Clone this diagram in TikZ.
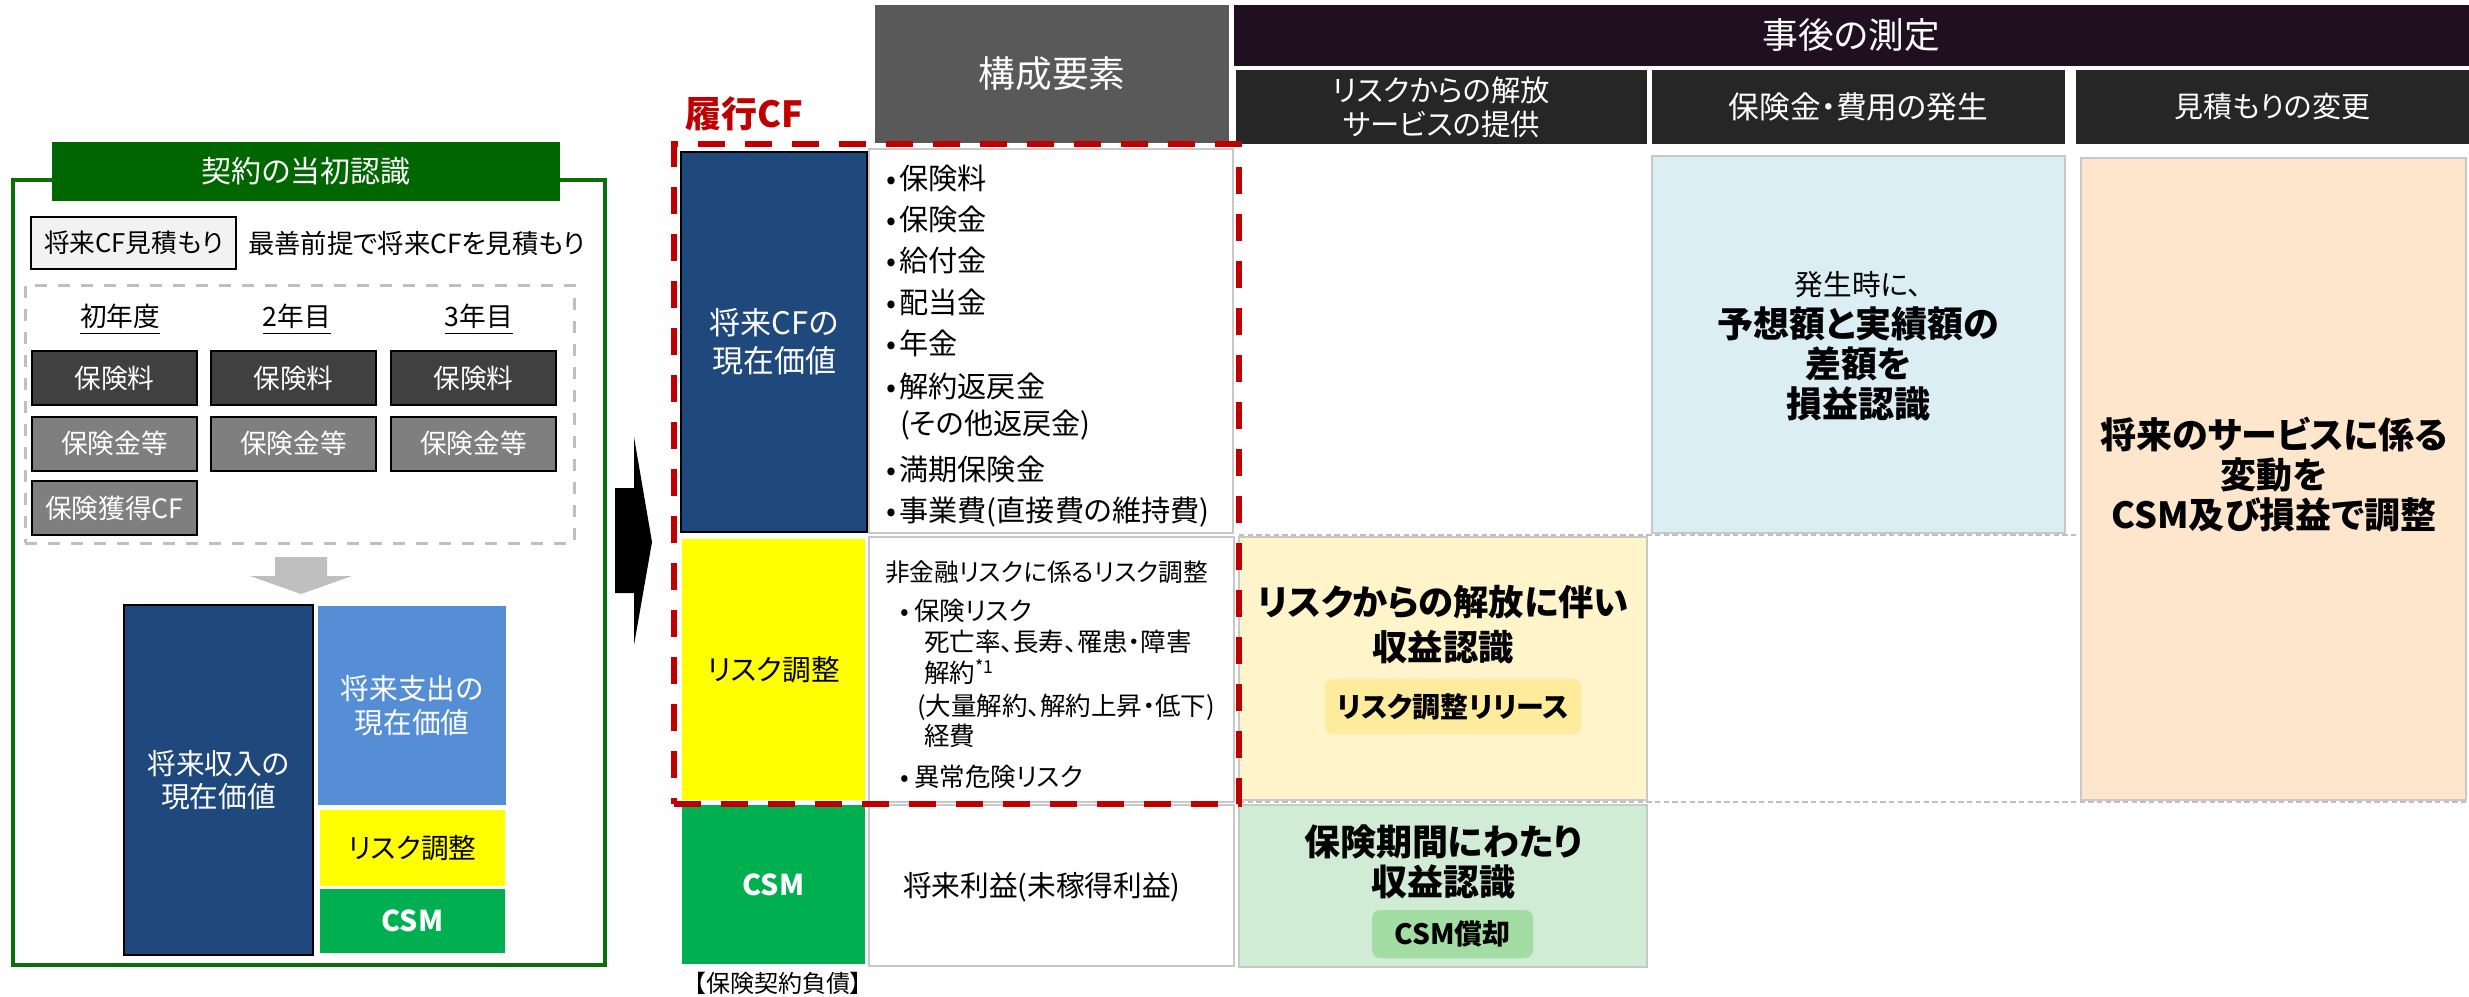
\documentclass[tikz,border=0pt]{standalone}
\usepackage{fontspec}
\setmainfont{Noto Sans CJK JP}[RawFeature={+palt}]
\definecolor{dkgreen}{HTML}{006600}
\definecolor{frameg}{HTML}{0A6E0A}
\definecolor{navy}{HTML}{1F497D}
\definecolor{skyb}{HTML}{558ED5}
\definecolor{yel}{HTML}{FFFF00}
\definecolor{csmg}{HTML}{00B050}
\definecolor{dgA}{HTML}{404040}
\definecolor{dgB}{HTML}{7F7F7F}
\definecolor{lgfill}{HTML}{F2F2F2}
\definecolor{arrg}{HTML}{BFBFBF}
\definecolor{hdrgrey}{HTML}{595959}
\definecolor{plum}{HTML}{200F21}
\definecolor{subh}{HTML}{262626}
\definecolor{lblue}{HTML}{DAEEF3}
\definecolor{peach}{HTML}{FDE6CC}
\definecolor{lyel}{HTML}{FFF4CA}
\definecolor{pillyel}{HTML}{FFEB9C}
\definecolor{lgrn}{HTML}{D0ECD4}
\definecolor{pillgrn}{HTML}{A3DDA4}
\definecolor{redd}{HTML}{C00000}
\definecolor{bord}{HTML}{C8C8C8}
\newcommand\fsz[2]{\fontsize{#1pt}{#2pt}\selectfont}
\newcommand\bua{\makebox[4.0pt][l]{•}}
\newcommand\bub{\makebox[4.2pt][l]{•}}
\begin{document}
\begin{tikzpicture}[x=0.3pt,y=-0.3pt,
  bx/.style 2 args={rectangle,inner sep=0pt,outer sep=0pt,minimum width={#1*0.3pt},minimum height={#2*0.3pt}},
  tx/.style={inner sep=0pt,outer sep=0pt},
  lt/.style={tx,anchor=west},
  yrbx/.style={bx={165}{54},draw=black,line width=0.6pt,text=white,font=\fsz{8}{9.6}},
  lst/.style={lt,font=\fsz{8.75}{10}},
  lst2/.style={lt,font=\fsz{7.65}{9}},
  wbox/.style={draw=bord,line width=0.5pt,fill=white},
  bigb/.style={tx,align=center,font=\fsz{10.8}{12}\bfseries},
]
\useasboundingbox (0,0) rectangle (2469,996);
\fill[white] (0,0) rectangle (2469,996);

% ---------------- left panel ----------------
\node[bx={592}{785},draw=frameg,line width=1.1pt] (frame) at (309,572.5) {};
\node[bx={508}{59},fill=dkgreen,text=white,font=\fsz{9}{11}] (ttl) at (306,171.5) {契約の当初認識};
\node[bx={205}{52},fill=lgfill,draw=black,line width=0.6pt,font=\fsz{7.7}{9}] (cfb) at (133.5,243) {将来CF見積もり};
\node[lt,font=\fsz{7.9}{9}] (cfd) at (248,243) {最善前提で将来CFを見積もり};
\node[bx={549}{258},draw=arrg,line width=0.9pt,dash pattern=on 3.6pt off 3.3pt] (yrs) at (299.5,414) {};
\node[tx,font=\fsz{8}{9.6}] (yh1) at (120,320) {\underline{初年度}};
\node[tx,font=\fsz{8}{9.6}] (yh2) at (297,320) {\underline{2年目}};
\node[tx,font=\fsz{8}{9.6}] (yh3) at (479,320) {\underline{3年目}};
\node[yrbx,fill=dgA] (p1) at (114.5,378) {保険料};
\node[yrbx,fill=dgA] (p2) at (293.5,378) {保険料};
\node[yrbx,fill=dgA] (p3) at (473.5,378) {保険料};
\node[yrbx,fill=dgB] (q1) at (114.5,443.5) {保険金等};
\node[yrbx,fill=dgB] (q2) at (293.5,443.5) {保険金等};
\node[yrbx,fill=dgB] (q3) at (473.5,443.5) {保険金等};
\node[yrbx,fill=dgB] (acq) at (114.5,508) {保険獲得CF};
\fill[arrg] (275,557) -- (327,557) -- (327,576) -- (352,576) -- (301,594) -- (250,576) -- (275,576) -- cycle;
\node[bx={189}{350},fill=navy,draw=black,line width=0.8pt,text=white,align=center,font=\fsz{8.6}{10}] (inc) at (218.5,780) {将来収入の\\現在価値};
\node[bx={188}{199},fill=skyb,text=white,align=center,font=\fsz{8.6}{10}] (expn) at (412,705.5) {将来支出の\\現在価値};
\node[bx={185}{76},fill=yel,font=\fsz{8.3}{10}] (lrsk) at (412.5,848) {リスク調整};
\node[bx={185}{64},fill=csmg,text=white,font=\fsz{8.6}{10}\bfseries] (lcsm) at (412.5,921) {CSM};

% big black arrow
\fill[black] (615,488) -- (634,488) -- (634,437) -- (652,542) -- (634,645) -- (634,593) -- (615,593) -- cycle;

% ---------------- table headers ----------------
\node[bx={354}{138},fill=hdrgrey,text=white,font=\fsz{11}{13}] (hA) at (1052,74) {構成要素};
\node[bx={1235}{61},fill=plum,text=white,font=\fsz{10.7}{12}] (hB) at (1851.5,35.5) {事後の測定};
\node[bx={411}{74},fill=subh,text=white,align=center,font=\fsz{8.8}{10.2}] (s1) at (1441.5,107) {リスクからの解放\\サービスの提供};
\node[bx={413}{74},fill=subh,text=white,font=\fsz{9.2}{10}] (s2) at (1858.5,107) {保険金・費用の発生};
\node[bx={393}{74},fill=subh,text=white,font=\fsz{8.7}{10}] (s3) at (2272.5,107) {見積もりの変更};
\node[tx,text=redd,font=\fsz{10.8}{12}\bfseries] (rcf) at (744,114) {履行CF};

% grey dashed row separators
\coordinate (gl1) at (1239,535);
\coordinate (gr1) at (2469,535);
\coordinate (gl2) at (1239,802);
\coordinate (gr2) at (2469,802);
\draw[arrg,line width=0.6pt,dash pattern=on 1.6pt off 1pt] (gl1) -- (gr1);
\draw[arrg,line width=0.6pt,dash pattern=on 1.6pt off 1pt] (gl2) -- (gr2);

% ---------------- table body ----------------
\node[bx={186}{380},fill=navy,draw=black,line width=0.8pt,text=white,align=center,font=\fsz{9.3}{11.4}] (nav) at (774,342) {将来CFの\\現在価値};
\node[bx={364}{384},wbox] (d1) at (1051,341) {};
\node[bx={183}{261},fill=yel,font=\fsz{8.6}{10}] (ry) at (773.5,669.5) {リスク調整};
\node[bx={365}{265},wbox] (d2) at (1051.5,669.5) {};
\node[bx={183}{159},fill=csmg,text=white,font=\fsz{8.6}{10}\bfseries] (tcsm) at (773.5,884.5) {CSM};
\node[bx={365}{161},wbox] (d3) at (1051.5,885.5) {};
\node[tx,font=\fsz{7.2}{9}] (liab) at (778,983) {【保険契約負債】};

\node[lst] (i1) at (886,178) {\bua 保険料};
\node[lst] (i2) at (886,219) {\bua 保険金};
\node[lst] (i3) at (886,260) {\bua 給付金};
\node[lst] (i4) at (886,302) {\bua 配当金};
\node[lst] (i5) at (886,343) {\bua 年金};
\node[lst] (i6) at (886,386) {\bua 解約返戻金};
\node[lst] (i6b) at (900,425) {(その他返戻金)};
\node[lst] (i7) at (886,469) {\bua 満期保険金};
\node[lst] (i8) at (886,512) {\bua 事業費(直接費の維持費)};

\node[lst2,font=\fsz{7.4}{9}] (r0) at (885,572) {非金融リスクに係るリスク調整};
\node[lst2] (r1) at (900,611) {\bub 保険リスク};
\node[lst2] (r2) at (924,642) {死亡率、長寿、罹患・障害};
\node[lst2] (r3) at (924,672) {解約\textsuperscript{*1}};
\node[lst2] (r4) at (917,707) {(大量解約、解約上昇・低下)};
\node[lst2] (r5) at (924,736) {経費};
\node[lst2] (r6) at (900,777) {\bub 異常危険リスク};
\node[lt,font=\fsz{8.6}{10}] (fut) at (903,887) {将来利益(未稼得利益)};

% ---------------- measurement columns ----------------
\node[bx={413}{377},fill=lblue,draw=bord,line width=0.5pt] (lb) at (1858.5,344.5) {};
\node[tx,font=\fsz{8.6}{10}] (lbt1) at (1858.5,285) {発生時に、};
\node[bigb] (lbt2) at (1858.5,364) {予想額と実績額の\\差額を\\損益認識};
\node[bx={385}{642},fill=peach,draw=bord,line width=0.5pt] (orb) at (2273.5,479) {};
\node[bigb] (ort) at (2274,475) {将来のサービスに係る\\変動を\\CSM及び損益で調整};
\node[bx={408}{263},fill=lyel,draw=bord,line width=0.5pt] (ly) at (1443,668.5) {};
\node[bigb,font=\fsz{10.6}{13.5}\bfseries] (lyt) at (1443,624.5) {リスクからの解放に伴い\\収益認識};
\node[bx={256}{55},fill=pillyel,rounded corners=2.4pt,font=\fsz{8.4}{10}\bfseries] (pl1) at (1453,706.5) {リスク調整リリース};
\node[bx={408}{162},fill=lgrn,draw=bord,line width=0.5pt] (lg) at (1443,886) {};
\node[bigb] (lgt) at (1443,862) {保険期間にわたり\\収益認識};
\node[bx={161}{48},fill=pillgrn,rounded corners=2.4pt,font=\fsz{8.4}{10}\bfseries] (pl2) at (1452.5,934) {CSM償却};

% red dashed frame (履行CF)
\node[bx={565}{660},draw=redd,line width=1.8pt,dash pattern=on 8.1pt off 6pt] (red) at (956.5,474) {};
\end{tikzpicture}
\end{document}
